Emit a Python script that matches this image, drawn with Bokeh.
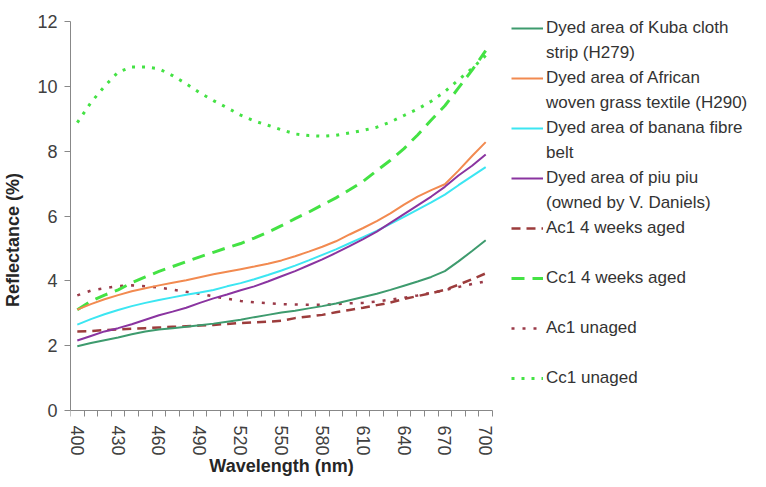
from bokeh.plotting import figure
from bokeh.models import Range1d, FixedTicker, Legend, LegendItem, ColumnDataSource, Label
from bokeh.embed import file_html
from bokeh.resources import INLINE

wavelength = list(range(400, 701, 10))
x_tick_labels = [400, 430, 460, 490, 520, 550, 580, 610, 640, 670, 700]
y_tick_labels = [0, 2, 4, 6, 8, 10, 12]

kuba = [1.98, 2.08, 2.17, 2.25, 2.35, 2.44, 2.50, 2.54, 2.58, 2.63, 2.68, 2.74, 2.80, 2.88, 2.95, 3.02,
        3.08, 3.15, 3.22, 3.30, 3.40, 3.50, 3.60, 3.72, 3.85, 3.98, 4.12, 4.30, 4.60, 4.92, 5.25]
african = [3.11, 3.28, 3.43, 3.56, 3.68, 3.77, 3.86, 3.94, 4.02, 4.11, 4.20, 4.28, 4.36, 4.44, 4.53, 4.63,
           4.76, 4.90, 5.05, 5.22, 5.43, 5.63, 5.84, 6.08, 6.35, 6.60, 6.80, 6.98, 7.40, 7.85, 8.28]
banana = [2.65, 2.82, 2.97, 3.10, 3.22, 3.32, 3.41, 3.49, 3.57, 3.64, 3.72, 3.83, 3.93, 4.05, 4.18, 4.32,
          4.47, 4.63, 4.80, 4.97, 5.16, 5.35, 5.54, 5.76, 5.97, 6.20, 6.42, 6.66, 6.95, 7.23, 7.51]
piupiu = [2.16, 2.30, 2.44, 2.54, 2.66, 2.80, 2.94, 3.05, 3.17, 3.32, 3.46, 3.58, 3.71, 3.83, 3.98, 4.14,
          4.30, 4.48, 4.66, 4.86, 5.07, 5.29, 5.52, 5.79, 6.06, 6.33, 6.60, 6.90, 7.25, 7.55, 7.90]
ac1_aged = [2.44, 2.45, 2.48, 2.50, 2.52, 2.54, 2.56, 2.58, 2.60, 2.62, 2.64, 2.67, 2.70, 2.72, 2.74, 2.77,
            2.85, 2.90, 2.95, 3.03, 3.10, 3.17, 3.25, 3.33, 3.44, 3.53, 3.62, 3.72, 3.88, 4.05, 4.23]
cc1_aged = [3.11, 3.37, 3.56, 3.72, 3.94, 4.12, 4.29, 4.44, 4.59, 4.74, 4.88, 5.02, 5.15, 5.32, 5.50, 5.70,
            5.92, 6.12, 6.34, 6.56, 6.81, 7.07, 7.40, 7.72, 8.08, 8.50, 8.96, 9.40, 9.95, 10.50, 11.10]
ac1_unaged = [3.55, 3.70, 3.77, 3.84, 3.86, 3.83, 3.79, 3.73, 3.66, 3.60, 3.52, 3.45, 3.38, 3.34, 3.31, 3.28,
              3.27, 3.26, 3.26, 3.28, 3.31, 3.32, 3.36, 3.42, 3.48, 3.55, 3.63, 3.71, 3.81, 3.90, 3.98]
cc1_unaged = [8.88, 9.50, 10.00, 10.44, 10.60, 10.60, 10.54, 10.33, 10.08, 9.80, 9.56, 9.34, 9.11, 8.93, 8.80, 8.66,
              8.53, 8.48, 8.46, 8.49, 8.56, 8.64, 8.74, 8.90, 9.10, 9.30, 9.54, 9.84, 10.20, 10.55, 10.95]

FONT = "Liberation Sans"

# The frame fills the canvas right of the y axis (so the legend and the x title can sit in it);
# the axes themselves are bounded to the data area (395..705, 0..12), x axis fixed at y = 0.
W, H, LEFT = 750, 479, 70
TOP_12, BOTTOM_0 = 21, 410          # canvas rows of y = 12 and y = 0
PX_X = 422 / 310                    # pixels per nm
PX_Y = (BOTTOM_0 - TOP_12) / 12     # pixels per reflectance unit
X_END = 395 + (W - LEFT) / PX_X
Y_START = -(H - BOTTOM_0) / PX_Y
Y_END = 12 + TOP_12 / PX_Y

p = figure(width=W, height=H, output_backend="svg", toolbar_location=None,
           x_range=Range1d(395, X_END), y_range=Range1d(Y_START, Y_END),
           min_border_left=LEFT, min_border_right=0, min_border_top=0, min_border_bottom=0)
p.outline_line_color = None
p.xgrid.visible = False
p.ygrid.visible = False
p.background_fill_color = "white"

src = ColumnDataSource(dict(x=wavelength, kuba=kuba, african=african, banana=banana, piupiu=piupiu,
                            ac1_aged=ac1_aged, cc1_aged=cc1_aged, ac1_unaged=ac1_unaged, cc1_unaged=cc1_unaged))

r_cc1u = p.line("x", "cc1_unaged", source=src, line_color="#44e244", line_width=3, line_dash="3 7")
r_ac1u = p.line("x", "ac1_unaged", source=src, line_color="#9a3a48", line_width=2.5, line_dash="3 8")
r_cc1a = p.line("x", "cc1_aged", source=src, line_color="#44e244", line_width=3, line_dash="13 8")
r_ac1a = p.line("x", "ac1_aged", source=src, line_color="#9c3c3c", line_width=2.5, line_dash="9 6")
r_kuba = p.line("x", "kuba", source=src, line_color="#3e9b6e", line_width=2)
r_afr = p.line("x", "african", source=src, line_color="#f28a50", line_width=2)
r_ban = p.line("x", "banana", source=src, line_color="#3ce6f2", line_width=2)
r_piu = p.line("x", "piupiu", source=src, line_color="#8a34a0", line_width=2)
r_blank = p.line(x=[], y=[], line_alpha=0)

# axes
ax = p.xaxis[0]
ax.fixed_location = 0
ax.bounds = (395, 705)
ax.ticker = FixedTicker(ticks=x_tick_labels, minor_ticks=[w - 5 for w in wavelength] + [705])
ax.major_tick_out = 0
ax.major_tick_in = 0
ax.minor_tick_out = 6
ax.minor_tick_in = 0
ax.minor_tick_line_color = "#888888"
ax.major_label_orientation = "vertical"
ax.major_label_standoff = 9

ay = p.yaxis[0]
ay.bounds = (0, 12)
ay.ticker = FixedTicker(ticks=y_tick_labels, minor_ticks=[])
ay.major_tick_out = 6
ay.major_tick_in = 0
ay.major_label_standoff = 7
ay.axis_label = "Reflectance (%)"
ay.axis_label_standoff = 11

for a in (ax, ay):
    a.axis_line_color = "#888888"
    a.major_tick_line_color = "#888888"
    a.major_label_text_font = FONT
    a.major_label_text_font_size = "18px"
    a.major_label_text_color = "#404040"
    a.axis_label_text_font = FONT
    a.axis_label_text_font_size = "18px"
    a.axis_label_text_font_style = "bold"
    a.axis_label_text_color = "#262626"

# x-axis title, centred under the bounded axis near the bottom edge
xtitle = Label(x=550, y=14, x_units="data", y_units="screen", text="Wavelength (nm)",
               text_align="center", text_baseline="middle",
               text_font=FONT, text_font_size="18px", text_font_style="bold", text_color="#262626")
p.add_layout(xtitle)

items = [
    LegendItem(label="Dyed area of Kuba cloth", renderers=[r_kuba]),
    LegendItem(label="strip (H279)", renderers=[r_blank]),
    LegendItem(label="Dyed area of African", renderers=[r_afr]),
    LegendItem(label="woven grass textile (H290)", renderers=[r_blank]),
    LegendItem(label="Dyed area of banana fibre", renderers=[r_ban]),
    LegendItem(label="belt", renderers=[r_blank]),
    LegendItem(label="Dyed area of piu piu", renderers=[r_piu]),
    LegendItem(label="(owned by V. Daniels)", renderers=[r_blank]),
    LegendItem(label="Ac1 4 weeks aged", renderers=[r_ac1a]),
    LegendItem(label=" ", renderers=[r_blank]),
    LegendItem(label="Cc1 4 weeks aged", renderers=[r_cc1a]),
    LegendItem(label="  ", renderers=[r_blank]),
    LegendItem(label="Ac1 unaged", renderers=[r_ac1u]),
    LegendItem(label="   ", renderers=[r_blank]),
    LegendItem(label="Cc1 unaged", renderers=[r_cc1u]),
]
legend = Legend(items=items, location=(441, H - 390), padding=0, margin=0, spacing=0,
                label_height=25, glyph_height=20, glyph_width=32, label_standoff=3,
                label_text_font=FONT, label_text_font_size="17px", label_text_color="#333333",
                border_line_color=None, background_fill_alpha=0)
p.add_layout(legend, "center")

open("out.html", "w").write(file_html(p, INLINE))
